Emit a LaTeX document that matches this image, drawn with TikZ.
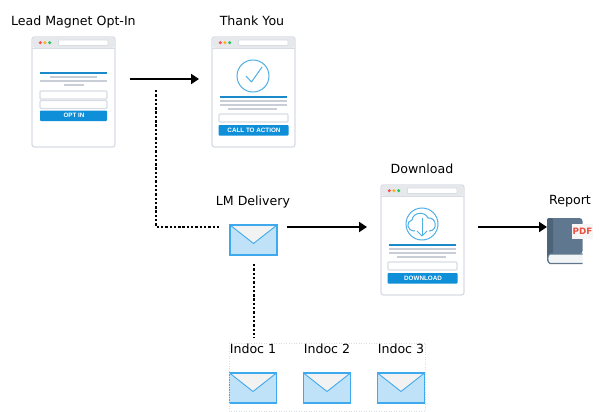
\documentclass[tikz,border=0pt]{standalone}
\usepackage{fontspec}
\setmainfont{DejaVu Sans}
\newfontfamily\btnfont{Liberation Sans}
\usetikzlibrary{arrows.meta}
\definecolor{frameC}{HTML}{D8DCE3}
\definecolor{barC}{HTML}{E6E8EC}
\definecolor{lineC}{HTML}{C9CED6}
\definecolor{blueC}{HTML}{1B8ACB}
\definecolor{btnC}{HTML}{0F8FD8}
\definecolor{ringC}{HTML}{4FAEE6}
\definecolor{envFill}{HTML}{BFE2F8}
\definecolor{envEdge}{HTML}{3FA9EE}
\definecolor{envFlap}{HTML}{F2F2F2}
\definecolor{bookC}{HTML}{5F788F}
\definecolor{bookD}{HTML}{4C6378}
\definecolor{pdfC}{HTML}{E9503F}
\definecolor{dotR}{HTML}{FF4D4D}
\definecolor{dotY}{HTML}{FFB020}
\definecolor{dotG}{HTML}{22C55E}
\tikzset{
  x=1pt,y=-1pt,
  lbl/.style={font=\fontsize{12.6}{14}\selectfont,text=black,inner sep=0pt,anchor=base},
  flow/.style={draw=black,line width=2.2pt,-{Triangle[length=8pt,width=10pt]}},
  dots/.style={draw=black,line width=2.4pt,dash pattern=on 2.4pt off 1.9pt},
  win/.style={draw=frameC,line width=1.3pt,fill=white,rounded corners=2.5pt},
  rule/.style={draw=lineC,line width=1.3pt},
  blueline/.style={draw=blueC,line width=1.3pt},
  field/.style={draw=frameC,line width=1.1pt,fill=white,rounded corners=1pt},
  btn/.style={fill=btnC,rounded corners=.8pt},
  btntxt/.style={font=\btnfont\bfseries\fontsize{6.3}{7}\selectfont,text=white,inner sep=0pt},
  env/.pic={
    \fill[envFill] (0,0) rectangle (47,30);
    \fill[envFlap] (0,0) -- (23.5,18.5) -- (47,0) -- cycle;
    \draw[envEdge,line width=.9pt] (0,0) -- (23.5,18.5) -- (47,0);
    \draw[envEdge,line width=1.2pt] (0,0) rectangle (47,30);
  },
  chrome/.pic={
    \draw[win] (0,0) rectangle (83,110);
    \fill[barC,rounded corners=2.5pt] (.6,.6) rectangle (82.4,11);
    \draw[frameC,line width=.8pt] (0,11) -- (83,11);
    \fill[white,draw=frameC,line width=.9pt,rounded corners=.8pt] (26.5,3) rectangle (76,8.5);
    \fill[dotR] (8.3,5.7) circle (1.7);
    \fill[dotY] (12.9,5.7) circle (1.7);
    \fill[dotG] (17.7,5.7) circle (1.7);
  },
  lower/.pic={
    \draw[blueline] (8,60) -- (75,60);
    \draw[rule] (8,64) -- (75,64);
    \draw[rule] (8,68) -- (75,68);
    \draw[rule] (16,72) -- (65,72);
    \draw[field] (7,77) rectangle (76,85);
    \fill[btn] (6.5,88) rectangle (76.5,98.5);
    \draw[ringC,line width=1pt] (41,39) circle (16);
  }
}
\begin{document}
\begin{tikzpicture}
\useasboundingbox (0,0) rectangle (600,412);
% window 1
\pic at (32,37) {chrome};
\begin{scope}[shift={(32,37)}]
  \draw[blueline] (8,36) -- (75,36);
  \draw[rule] (18,40) -- (65,40);
  \draw[rule] (8,44) -- (75,44);
  \draw[rule] (32,48) -- (52,48);
  \draw[field] (8,54) rectangle (75,62);
  \draw[field] (8,63.5) rectangle (75,71.5);
  \fill[btn] (8,73.5) rectangle (75,84);
\end{scope}
\node[btntxt] (optin) at (74,115.8) {OPT IN};
% window 2
\pic at (212,37) {chrome};
\pic at (212,37) {lower};
\draw[ringC,line width=1pt,line join=round] (246,76) -- (251.5,82) -- (262,67);
\node[btntxt] (cta) at (254,130.3) {CALL TO ACTION};
% window 3
\pic at (381,185) {chrome};
\pic at (381,185) {lower};
\begin{scope}[ringC,line width=1pt,line join=round]
  \draw (415,231) .. controls (406,231) and (406,221) .. (412,220)
        .. controls (413,212) and (425,211) .. (428,218)
        .. controls (437,217) and (438,231) .. (429,231);
  \draw (422,218) -- (422,236);
  \draw (417,231) -- (422,236) -- (427,231);
\end{scope}
\node[btntxt] (dl) at (423,278.3) {DOWNLOAD};
% book
\fill[bookC,rounded corners=3pt] (547,264) -- (547,218) -- (582.5,218) -- (582.5,254) -- (555,254) -- (547,258) -- cycle;
\fill[bookD,rounded corners=2pt] (547,262) -- (547,218) -- (553,218) -- (553,254) -- cycle;
\draw[bookC,line width=1.2pt,fill=white!92!bookC,rounded corners=3pt] (582.5,254) -- (553,254) .. controls (547,254) and (547,263.4) .. (553,263.4) -- (582.5,263.4);
\fill[white!93!gray] (572,224) rectangle (593,238.5);
\node[font=\bfseries\fontsize{8.8}{11}\selectfont,text=pdfC,inner sep=0pt] (pdf) at (582.5,231) {PDF};
% envelopes
\pic at (230,225) {env};
\pic at (229.5,373) {env};
\pic at (303.5,373) {env};
\pic at (377.5,373) {env};
\draw[lineC!70,line width=.7pt,dash pattern=on 1pt off 1.5pt] (229,343) rectangle (425,411);
% labels
\node[lbl] (t1) at (73.4,25.7) {Lead Magnet Opt-In};
\node[lbl] (t2) at (252,25.7) {Thank You};
\node[lbl] (t3) at (422,173.5) {Download};
\node[lbl] (t4) at (570,204.5) {Report};
\node[lbl] (t5) at (253,205.7) {LM Delivery};
\node[lbl] (t6) at (253,353.3) {Indoc 1};
\node[lbl] (t7) at (327,353.3) {Indoc 2};
\node[lbl] (t8) at (401,353.3) {Indoc 3};
% connector ends
\coordinate (a1) at (130,79); \coordinate (a2) at (199,79);
\coordinate (b1) at (156,90); \coordinate (b2) at (156,227); \coordinate (b3) at (219,227);
\coordinate (c1) at (287,227); \coordinate (c2) at (367,227);
\coordinate (d1) at (478,227); \coordinate (d2) at (547,227);
\coordinate (e1) at (254,264); \coordinate (e2) at (254,338);
\draw[flow] (a1) -- (a2);
\draw[dots] (b1) -- (b2) -- (b3);
\draw[flow] (c1) -- (c2);
\draw[flow] (d1) -- (d2);
\draw[dots] (e1) -- (e2);
\end{tikzpicture}
\end{document}
